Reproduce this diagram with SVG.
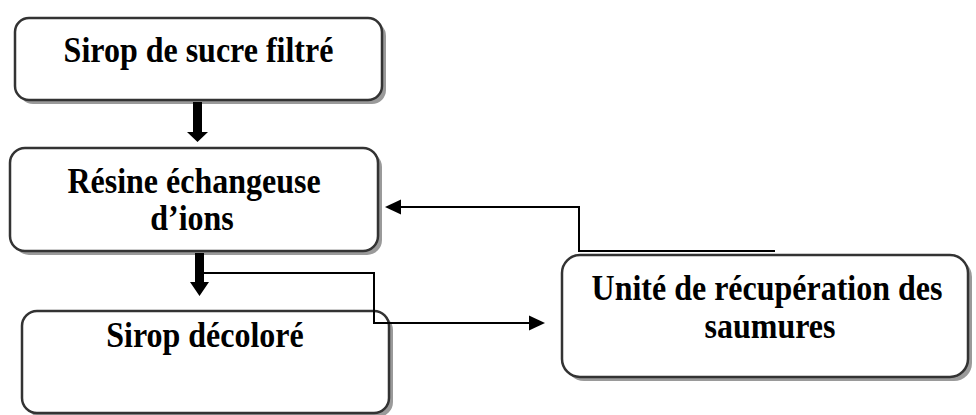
<svg xmlns="http://www.w3.org/2000/svg" width="976" height="415" viewBox="0 0 976 415">
<style>
.shadow{fill:#9a9a9a;}
.box{fill:#fff;stroke:#333;stroke-width:2.5;}
.lbl{font-family:"Liberation Serif","Times New Roman",serif;font-weight:bold;font-size:32px;fill:#000;text-anchor:middle;}
.thin{fill:none;stroke:#000;stroke-width:2;}
.head{fill:#000;}
</style>
<rect width="976" height="415" fill="#fff"/>
<g id="node-sirop-filtre">
<rect class="shadow" x="19" y="22" width="367" height="82" rx="14"/>
<rect class="box" x="15" y="18" width="367" height="82" rx="14"/>
<text class="lbl" transform="translate(198.5,62) scale(1,1.1)">Sirop de sucre filtré</text>
</g>
<g id="node-resine">
<rect class="shadow" x="14" y="152" width="368" height="103" rx="15"/>
<rect class="box" x="10" y="148" width="368" height="103" rx="15"/>
<text class="lbl" transform="translate(194,193) scale(1,1.1)">Résine échangeuse</text>
<text class="lbl" transform="translate(192,230) scale(1,1.1)">d’ions</text>
</g>
<g id="node-sirop-decolore">
<rect class="shadow" x="26" y="315" width="367" height="102" rx="15"/>
<rect class="box" x="22" y="311" width="367" height="102" rx="15"/>
<text class="lbl" transform="translate(205,347) scale(1,1.1)">Sirop décoloré</text>
</g>
<g id="node-recuperation">
<rect class="shadow" x="566" y="259" width="406" height="122" rx="18"/>
<rect class="box" x="562" y="255" width="406" height="122" rx="18"/>
<text class="lbl" transform="translate(767,300) scale(1,1.1)">Unité de récupération des</text>
<text class="lbl" transform="translate(770,338) scale(1,1.1)">saumures</text>
</g>
<g id="connectors">
<path class="head" d="M193,102 H202 V132 H208 L197.5,142 L187,132 H193 Z"/>
<path class="head" d="M195,253 H204 V282 H209 L199.5,296 L190,282 H195 Z"/>
<path class="thin" d="M204,273 H374 V323 H530"/>
<path class="head" d="M545,323 L529,315.5 L529,330.5 Z"/>
<path class="thin" d="M775,251 H579 V207 H400"/>
<path class="head" d="M385,207 L401,199.5 L401,214.5 Z"/>
</g>
</svg>
